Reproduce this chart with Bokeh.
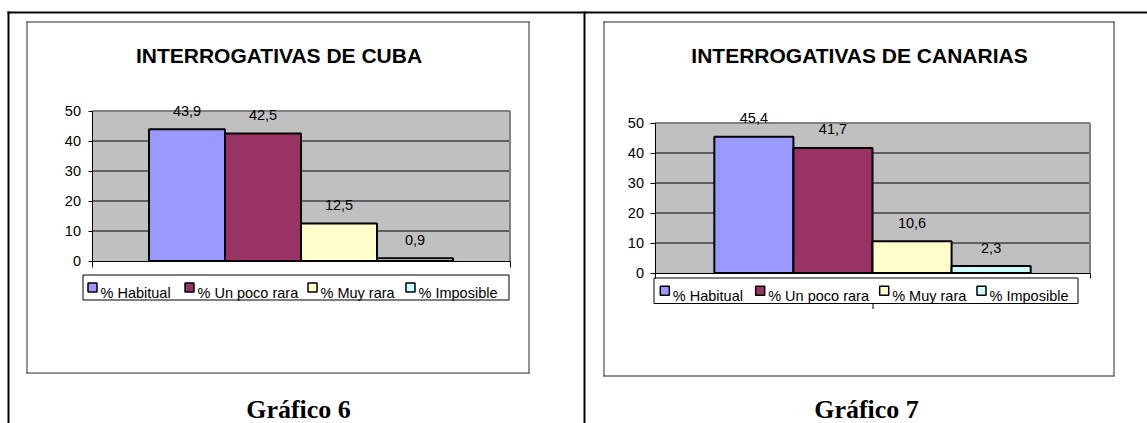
from bokeh.plotting import figure
from bokeh.models import ColumnDataSource, LabelSet, FixedTicker, Range1d, LinearAxis
from bokeh.core.properties import value
from bokeh.embed import file_html
from bokeh.resources import INLINE

# ---------------- data ----------------
series = ["% Habitual", "% Un poco rara", "% Muy rara", "% Imposible"]
colors = ["#9999FF", "#993366", "#FFFFCC", "#CCFFFF"]
cuba = [43.9, 42.5, 12.5, 0.9]
canarias = [45.4, 41.7, 10.6, 2.3]
titles = ["INTERROGATIVAS DE CUBA", "INTERROGATIVAS DE CANARIAS"]
captions = ["Gráfico 6", "Gráfico 7"]
y_ticks = [0, 10, 20, 30, 40, 50]
grid_ticks = [10, 20, 30, 40]

# ---------------- layout constants (page pixels, y downward) ----------------
W, H = 1147, 423
GAP = 1.5                      # Excel gap width: 150 % of one bar
X_END = GAP + len(series)
ARIAL = "Liberation Sans"
TIMES = "Liberation Serif"

cell1 = dict(box=(26, 529, 21, 373), title_xy=(278.5, 54.5), caption_xy=(298, 408.5),
             frame_x=(91.5, 509.5), plot_y=(110.5, 260.5),
             legend=(82, 509, 274, 300), leg_text=[100, 197, 320, 418],
             xtick=6, ytick=4, ystandoff=7, mid_tick=False)
cell2 = dict(box=(603, 1114, 21, 376), title_xy=(859, 55), caption_xy=(866, 408.5),
             frame_x=(654.5, 1089.5), plot_y=(122.5, 272.5),
             legend=(653, 1078, 277, 303.5), leg_text=[672.3, 767.7, 891.7, 989],
             xtick=5, ytick=5, ystandoff=6, mid_tick=True)
cells = [cell1, cell2]
datasets = [cuba, canarias]

p = figure(width=W, height=H, x_range=Range1d(0, W), y_range=Range1d(H, 0),
           x_axis_type=None, y_axis_type=None, title=None, toolbar_location=None,
           output_backend="svg", min_border=0)
p.outline_line_color = None
p.background_fill_color = "white"
p.border_fill_color = "white"

# per-chart linear scales mapping the data onto each plot area
xr_extra, yr_extra = {}, {}
ymax = y_ticks[-1]
for k, cell in enumerate(cells):
    fx0, fx1 = cell["frame_x"]
    pt, pb = cell["plot_y"]
    ux = (fx1 - fx0) / X_END
    uy = (pb - pt) / ymax
    xr_extra[f"x{k}"] = Range1d(-fx0 / ux, (W - fx0) / ux)
    yr_extra[f"y{k}"] = Range1d(-(H - pb) / uy, pb / uy)
p.extra_x_ranges = xr_extra
p.extra_y_ranges = yr_extra

# ---- document table rules ----
rules = [(7, W, 11, 13), (7, 9, 11, H), (583, 585, 11, H)]
p.quad(left=[r[0] for r in rules], right=[r[1] for r in rules],
       top=[r[2] for r in rules], bottom=[r[3] for r in rules],
       fill_color="black", line_color=None)

for k, (cell, vals, title, caption) in enumerate(zip(cells, datasets, titles, captions)):
    xr, yr = f"x{k}", f"y{k}"

    # chart-area border
    bl, br, bt, bb = cell["box"]
    box = [(bl, br, bt, bt + 1), (bl, br, bb - 1, bb), (bl, bl + 1, bt, bb), (br - 1, br, bt, bb)]
    p.quad(left=[r[0] for r in box], right=[r[1] for r in box],
           top=[r[2] for r in box], bottom=[r[3] for r in box],
           fill_color="#2b2b2b", line_color=None)

    # title
    tx, ty = cell["title_xy"]
    p.text(x=[tx], y=[ty], text=[title], text_align="center", text_baseline="alphabetic",
           text_font=value(ARIAL), text_font_style="bold", text_font_size=value("21px"),
           text_color="black")

    # plot area, grid lines, plot border
    p.quad(left=[0], right=[X_END], bottom=[0], top=[ymax], fill_color="#C0C0C0",
           line_color=None, x_range_name=xr, y_range_name=yr)
    p.segment(x0=[0] * len(grid_ticks), x1=[X_END] * len(grid_ticks), y0=grid_ticks, y1=grid_ticks,
              line_color="black", line_width=1, x_range_name=xr, y_range_name=yr)
    p.segment(x0=[0, X_END], y0=[ymax, 0], x1=[X_END, X_END], y1=[ymax, ymax],
              line_color="#808080", line_width=2, x_range_name=xr, y_range_name=yr)

    # bars and value labels
    xs = [GAP / 2 + i + 0.5 for i in range(len(vals))]
    src = ColumnDataSource(dict(x=xs, v=vals, color=colors,
                                txt=[f"{v:.1f}".replace(".", ",") for v in vals]))
    p.vbar(x="x", top="v", bottom=0, width=1.0, source=src, fill_color="color",
           line_color="black", line_width=2, x_range_name=xr, y_range_name=yr)
    p.add_layout(LabelSet(x="x", y="v", text="txt", source=src, y_offset=13.5,
                          x_range_name=xr, y_range_name=yr,
                          text_align="center", text_baseline="alphabetic",
                          text_font=value(ARIAL), text_font_size=value("14.5px"),
                          text_color="black"))

    # axes (value axis and category axis), drawn at the plot-area edges
    ya = LinearAxis(x_range_name=xr, y_range_name=yr, fixed_location=0,
                    ticker=FixedTicker(ticks=y_ticks), bounds=(0, ymax),
                    major_tick_out=cell["ytick"], major_tick_in=0,
                    minor_tick_out=0, minor_tick_in=0,
                    axis_line_color="black", major_tick_line_color="black",
                    major_label_standoff=cell["ystandoff"], major_label_text_font=ARIAL,
                    major_label_text_font_size="14.5px", major_label_text_color="black")
    p.add_layout(ya, "left")
    xa = LinearAxis(x_range_name=xr, y_range_name=yr, fixed_location=0,
                    ticker=FixedTicker(ticks=[0, X_END]), bounds=(0, X_END),
                    major_tick_out=cell["xtick"], major_tick_in=0,
                    minor_tick_out=0, minor_tick_in=0,
                    axis_line_color="black", major_tick_line_color="black",
                    major_label_overrides={0: "", X_END: ""},
                    major_label_text_font_size="0px", major_label_standoff=0)
    p.add_layout(xa, "below")

    # legend
    lx0, lx1, ly0, ly1 = cell["legend"]
    p.quad(left=[lx0 + 0.5], right=[lx1 - 0.5], top=[ly0 + 0.5], bottom=[ly1 - 0.5],
           fill_color="white", line_color="black", line_width=1)
    cy = (ly0 + ly1) / 2
    ltx = cell["leg_text"]
    p.quad(left=[t - 12.5 for t in ltx], right=[t - 3.5 for t in ltx],
           top=[cy - 4.5] * len(ltx), bottom=[cy + 4.5] * len(ltx),
           fill_color=colors, line_color="black", line_width=1.5)
    p.text(x=ltx, y=[cy + 5.5] * len(ltx), text=series, text_align="left",
           text_baseline="alphabetic", text_font=value(ARIAL),
           text_font_size=value("14.5px"), text_color="black")
    if cell["mid_tick"]:
        mx = round(sum(cell["frame_x"]) / 2) + 0.5
        p.segment(x0=[mx], y0=[ly1], x1=[mx], y1=[ly1 + 5], line_color="black", line_width=1)

    # caption
    cx, cy2 = cell["caption_xy"]
    p.text(x=[cx], y=[cy2], text=[caption], text_align="center", text_baseline="alphabetic",
           text_font=value(TIMES), text_font_style="bold", text_font_size=value("26px"),
           text_color="black")

open("out.html", "w").write(file_html(p, INLINE))
